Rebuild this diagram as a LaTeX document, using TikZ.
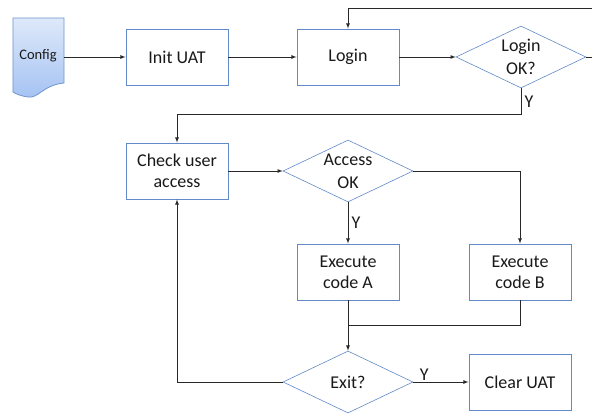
\documentclass[tikz,border=0pt]{standalone}
\usepackage{fontspec}
\setmainfont{Carlito}
\usetikzlibrary{shapes.geometric, shadows}
\tikzstyle{box} = [rectangle,draw=boxblue,line width=0.9pt,fill=white,minimum width=102pt,minimum height=56pt,align=center,text=txt,font=\fontsize{18}{21}\selectfont,drop shadow={opacity=0.2,shadow xshift=1.2pt,shadow yshift=-1.2pt}]
\tikzstyle{decide} = [diamond,draw=boxblue,line width=0.6pt,fill=white,minimum width=130pt,minimum height=62pt,inner sep=0pt,shape aspect=2.1,align=center,text=txt,font=\fontsize{18}{23}\selectfont]
\tikzstyle{line} = [draw=wire,line width=0.8pt,->,>=latex]
\definecolor{boxblue}{RGB}{98, 138, 200}
\definecolor{docblue}{RGB}{112, 148, 206}
\definecolor{doctop}{RGB}{222, 233, 250}
\definecolor{docbot}{RGB}{164, 194, 242}
\definecolor{wire}{RGB}{40, 40, 40}
\definecolor{txt}{RGB}{25, 25, 25}

\begin{document}
\begin{tikzpicture}[x=1pt,y=1pt,node distance=171pt]
			\clip (-38,57) rectangle (554,-357);
			% config document
			\shade[top color=doctop,bottom color=docbot,draw=docblue,line width=0.8pt]
				(-25,39) -- (26,39) -- (26,-26) .. controls (5,-28) and (0,-42) .. (-10,-40)
				.. controls (-17,-39) and (-22,-37) .. (-25,-35) -- cycle;
			\node [inner sep=0pt,text=txt,font=\fontsize{14.5}{16}\selectfont](config){\raisebox{6pt}{Config}};
			\node [box,right of=config,xshift=-32pt](init){Init UAT};
			\node [box,right of=init](login){Login};
			\node [decide,right of=login,xshift=2pt](loginok){Login\\OK?};
			\node [box,below of=init,yshift=57pt](check){Check user\\access};
			\node [decide,right of=check](access){Access\\OK};
			\node [box,below of=access,yshift=70pt](execa){Execute\\code A};
			\node [box,right of=execa,xshift=1pt](execb){Execute\\code B};
			\node [decide,below of=execa,yshift=61pt](exit){Exit?};
			\node [box,right of=exit,xshift=1pt](clear){Clear UAT};
			\coordinate (loop) at (570,49);

			\draw[line](config.east -| 26,0)--(init);
			\draw[line](init)--(login);
			\draw[line](login)--(loginok);
			\draw[line](loginok.east)-|(loop)-|(login.north);
			\draw[line](loginok.south)--node[right,text=txt,font=\fontsize{18}{20}\selectfont]{Y}++(0,-26)-|(check.north);
			\draw[line](check)--(access);
			\draw[line](access.east)-|(execb.north);
			\draw[line](access.south)--node[right,text=txt,font=\fontsize{18}{20}\selectfont]{Y}(execa.north);
			\draw[line](execa.south)--(exit.north);
			\draw[line,-](execb.south)|-([yshift=-25pt]execa.south);
			\draw[line](exit.east)--node[above,pos=0.2,inner sep=1pt,text=txt,font=\fontsize{18}{20}\selectfont]{Y}(clear.west);
			\draw[line](exit.west)-|(check.south);
			\end{tikzpicture}
\end{document}
